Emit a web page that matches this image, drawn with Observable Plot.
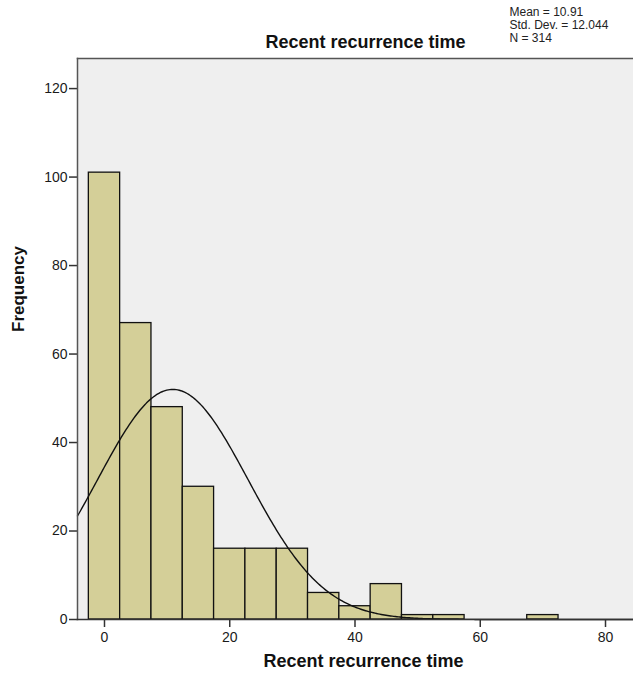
<!DOCTYPE html>
<html>
<head>
<meta charset="utf-8">
<script src="https://cdn.jsdelivr.net/npm/d3@7"></script>
<script src="https://cdn.jsdelivr.net/npm/@observablehq/plot@0.6"></script>
<style>
  html, body { margin: 0; padding: 0; background: #fff; }
  svg { display: block; }
</style>
</head>
<body>
<div id="chart"></div>
<script>
// Histogram bins (width 5, centred on multiples of 5)
const binCenters = [0, 5, 10, 15, 20, 25, 30, 35, 40, 45, 50, 55, 60, 65, 70];
const counts     = [101, 67, 48, 30, 16, 16, 16, 6, 3, 8, 1, 1, 0, 0, 1];
const binWidth = 5;
// Summary statistics shown on the chart
const statMean = 10.91;
const statSD = 12.044;
const statN = 314;
const yTicks = [0, 20, 40, 60, 80, 100, 120];
const xTicks = [0, 20, 40, 60, 80];
const titleText = "Recent recurrence time";
const xLabel = "Recent recurrence time";
const yLabel = "Frequency";

const bars = binCenters.map((c, i) => ({x1: c - binWidth / 2, x2: c + binWidth / 2, y: counts[i]}))
  .filter(d => d.y > 0);

const xDomain = [-4.31, 84.47];
const curve = d3.range(xDomain[0], xDomain[1] + 0.01, 0.25).map(x => ({
  x,
  y: statN * binWidth / (statSD * Math.sqrt(2 * Math.PI)) * Math.exp(-0.5 * ((x - statMean) / statSD) ** 2)
}));

const chart = Plot.plot({
  width: 633,
  height: 678,
  marginLeft: 77,
  marginRight: 0,
  marginTop: 58,
  marginBottom: 59,
  style: {fontFamily: "'Liberation Sans', Arial, sans-serif", fontSize: "14px", color: "#222", background: "#fff"},
  x: {domain: xDomain},
  y: {domain: [0, 126.8]},
  marks: [
    Plot.frame({fill: "#efefef", stroke: null}),
    Plot.frame({anchor: "top", stroke: "#555", strokeWidth: 1.5}),
    Plot.rectY(bars, {x1: "x1", x2: "x2", y: "y", fill: "#d4cf98", stroke: "#111", strokeWidth: 1.3}),
    Plot.line(curve, {x: "x", y: "y", stroke: "#111", strokeWidth: 1.4}),
    Plot.axisY({ticks: yTicks, tickSize: 8, tickPadding: 2, label: null, stroke: "#333", strokeWidth: 1.5, fill: "#1a1a1a", fontSize: 14}),
    Plot.axisX({ticks: xTicks, tickSize: 8, tickPadding: 5, label: null, stroke: "#333", strokeWidth: 1.5, fill: "#1a1a1a", fontSize: 14}),
    Plot.frame({anchor: "left", stroke: "#555", strokeWidth: 1.5}),
    Plot.frame({anchor: "bottom", stroke: "#333", strokeWidth: 1.5}),
    Plot.text([yLabel], {text: d => d, frameAnchor: "left", rotate: -90, dx: -59, dy: -7, fontSize: 17, fontWeight: "bold", fill: "#111"}),
    Plot.text([xLabel], {text: d => d, frameAnchor: "bottom", dx: 8, dy: 47, fontSize: 18, fontWeight: "bold", fill: "#111"}),
    Plot.text([titleText], {text: d => d, frameAnchor: "top", dx: 10, dy: -11, lineAnchor: "bottom", fontSize: 18, fontWeight: "bold", fill: "#111"}),
    Plot.text([`Mean = ${statMean}\nStd. Dev. = ${statSD}\nN = ${statN}`], {
      text: d => d, frameAnchor: "top-left", textAnchor: "start", lineAnchor: "top",
      dx: 432, dy: -52, fontSize: 12, lineHeight: 1.1, fill: "#222"
    })
  ]
});
document.getElementById("chart").append(chart);
</script>
</body>
</html>
